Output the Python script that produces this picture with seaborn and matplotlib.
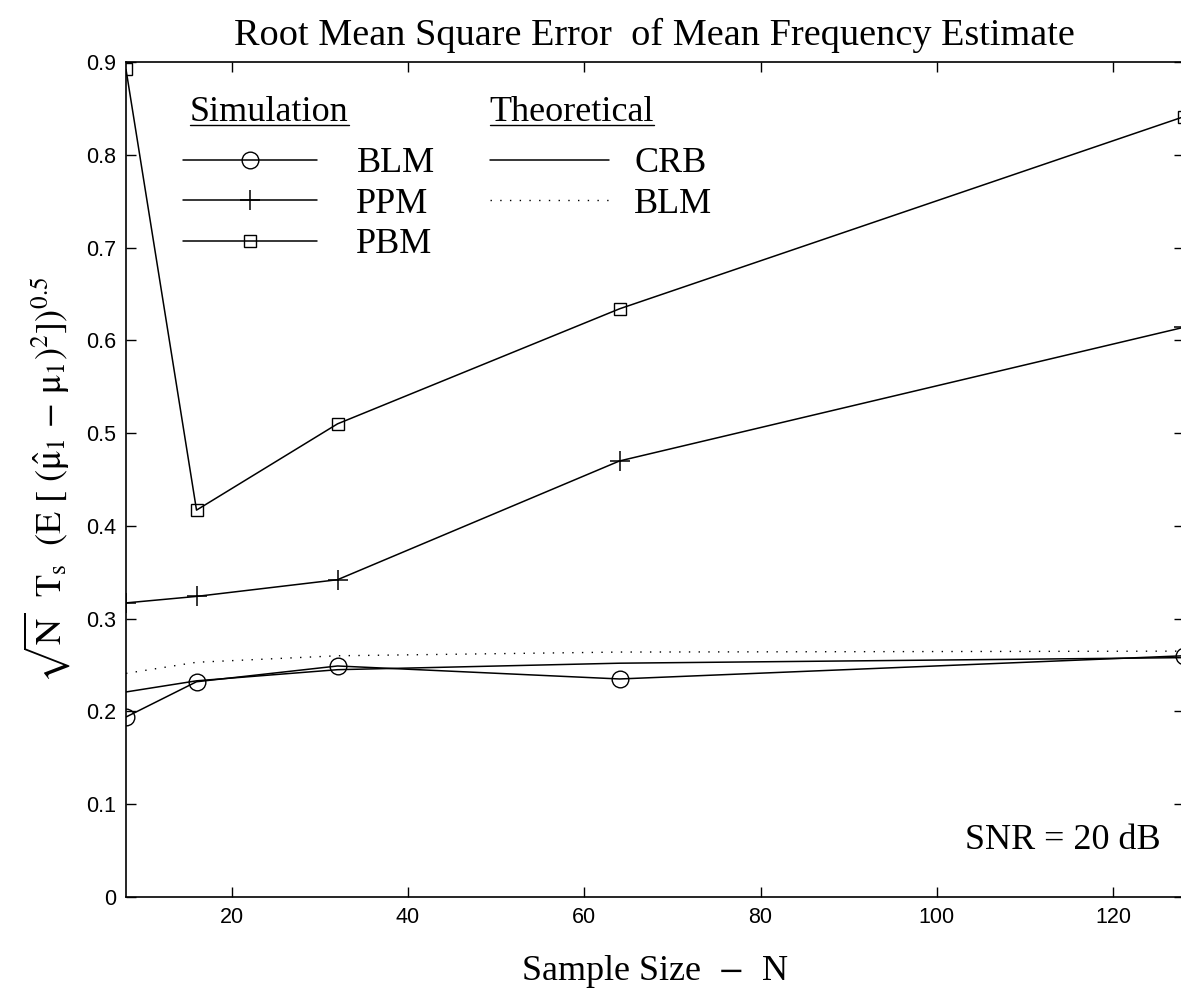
import numpy as np
import pandas as pd
import matplotlib
matplotlib.use('Agg')
import matplotlib.pyplot as plt
import seaborn as sns
from matplotlib.lines import Line2D

# data
N = [8, 16, 32, 64, 128]
blm_sim = [0.194, 0.232, 0.249, 0.235, 0.260]
ppm_sim = [0.317, 0.324, 0.342, 0.470, 0.614]
pbm_sim = [0.892, 0.417, 0.510, 0.634, 0.841]
crb_theory = [0.221, 0.233, 0.245, 0.252, 0.258]
blm_theory = [0.241, 0.253, 0.260, 0.264, 0.265]

x_ticks = [20, 40, 60, 80, 100, 120]
y_ticks = [0, 0.1, 0.2, 0.3, 0.4, 0.5, 0.6, 0.7, 0.8, 0.9]

sns.set_style('ticks')
plt.rcParams['font.family'] = ['Liberation Serif', 'DejaVu Serif']
plt.rcParams['mathtext.fontset'] = 'stix'
plt.rcParams['text.color'] = 'k'
plt.rcParams['axes.labelcolor'] = 'k'

serif = 'Liberation Serif'
sans = 'Liberation Sans'
fs = 26

fig = plt.figure(figsize=(11.81, 9.94), dpi=100)
ax = fig.add_axes([0.1067, 0.0976, 0.8955, 0.8400])

lw = 1.1
sns.lineplot(x=N, y=blm_sim, ax=ax, color='k', lw=lw, marker='o', ms=12,
             mfc='none', mec='k', mew=1.0, label='BLM')
sns.lineplot(x=N, y=ppm_sim, ax=ax, color='k', lw=lw, marker='+', ms=15,
             mfc='k', mec='k', mew=1.1, label='PPM')
sns.lineplot(x=N, y=pbm_sim, ax=ax, color='k', lw=lw, marker='s', ms=9,
             mfc='none', mec='k', mew=1.0, label='PBM')
sns.lineplot(x=N, y=crb_theory, ax=ax, color='k', lw=lw, label='CRB')
sns.lineplot(x=N, y=blm_theory, ax=ax, color='k', lw=1.0,
             linestyle=(0, (1, 6)), label='BLM ')

ax.set_xlim(8, 128)
ax.set_ylim(0, 0.9)
ax.set_xticks(x_ticks)
ax.set_yticks(y_ticks)
ax.set_xticklabels([str(v) for v in x_ticks], fontfamily=sans, fontsize=15.5)
ax.set_yticklabels(['0' if v == 0 else f'{v:.1f}' for v in y_ticks],
                   fontfamily=sans, fontsize=15.5)
ax.tick_params(direction='in', length=7.5, width=1, top=True, right=True,
               pad=7, colors='k')
for s in ax.spines.values():
    s.set_visible(True)
    s.set_linewidth(1.2)
    s.set_color('k')

ax.set_title('Root Mean Square Error  of Mean Frequency Estimate',
             fontfamily=serif, fontsize=27.5, pad=12, color='k')
ax.set_xlabel(r'Sample Size  $-$  N', fontfamily=serif, fontsize=fs, labelpad=18)
ax.set_ylabel(r'$\sqrt{\mathrm{N}}\ \ \mathrm{T_s}\ \ (\mathrm{E}\ [\ (\hat{\mathrm{\mu}}_1\ \mathrm{-}\ \mathrm{\mu}_1)^2])^{0.5}$',
              fontsize=fs, labelpad=10)

ax.text(0.978, 0.068, 'SNR = 20 dB', transform=ax.transAxes, ha='right',
        va='center', fontfamily=serif, fontsize=fs)

# legend headers
h1 = ax.text(0.0605, 0.939, 'Simulation', transform=ax.transAxes,
             ha='left', va='center', fontfamily=serif, fontsize=fs)
h2 = ax.text(0.344, 0.939, 'Theoretical', transform=ax.transAxes,
             ha='left', va='center', fontfamily=serif, fontsize=fs)

handles = ax.get_lines()
leg1 = ax.legend(handles=handles[:3], labels=['BLM', 'PPM', 'PBM'],
                 loc='upper left', bbox_to_anchor=(0.054, 0.898),
                 frameon=False, fontsize=fs, handlelength=3.7,
                 handletextpad=1.1, labelspacing=0.2, borderpad=0,
                 borderaxespad=0)
ax.add_artist(leg1)
leg2 = ax.legend(handles=handles[3:], labels=['CRB', 'BLM'],
                 loc='upper left', bbox_to_anchor=(0.344, 0.898),
                 frameon=False, fontsize=fs, handlelength=3.3,
                 handletextpad=0.7, labelspacing=0.2, borderpad=0,
                 borderaxespad=0)

# underline the legend headers
fig.canvas.draw()
for h in (h1, h2):
    bb = h.get_window_extent()
    yline = bb.y0 + 4
    fig.add_artist(Line2D([bb.x0 / fig.bbox.width, bb.x1 / fig.bbox.width],
                          [yline / fig.bbox.height, yline / fig.bbox.height],
                          color='k', lw=1.0, transform=fig.transFigure))

fig.savefig('out.png', dpi=100)
